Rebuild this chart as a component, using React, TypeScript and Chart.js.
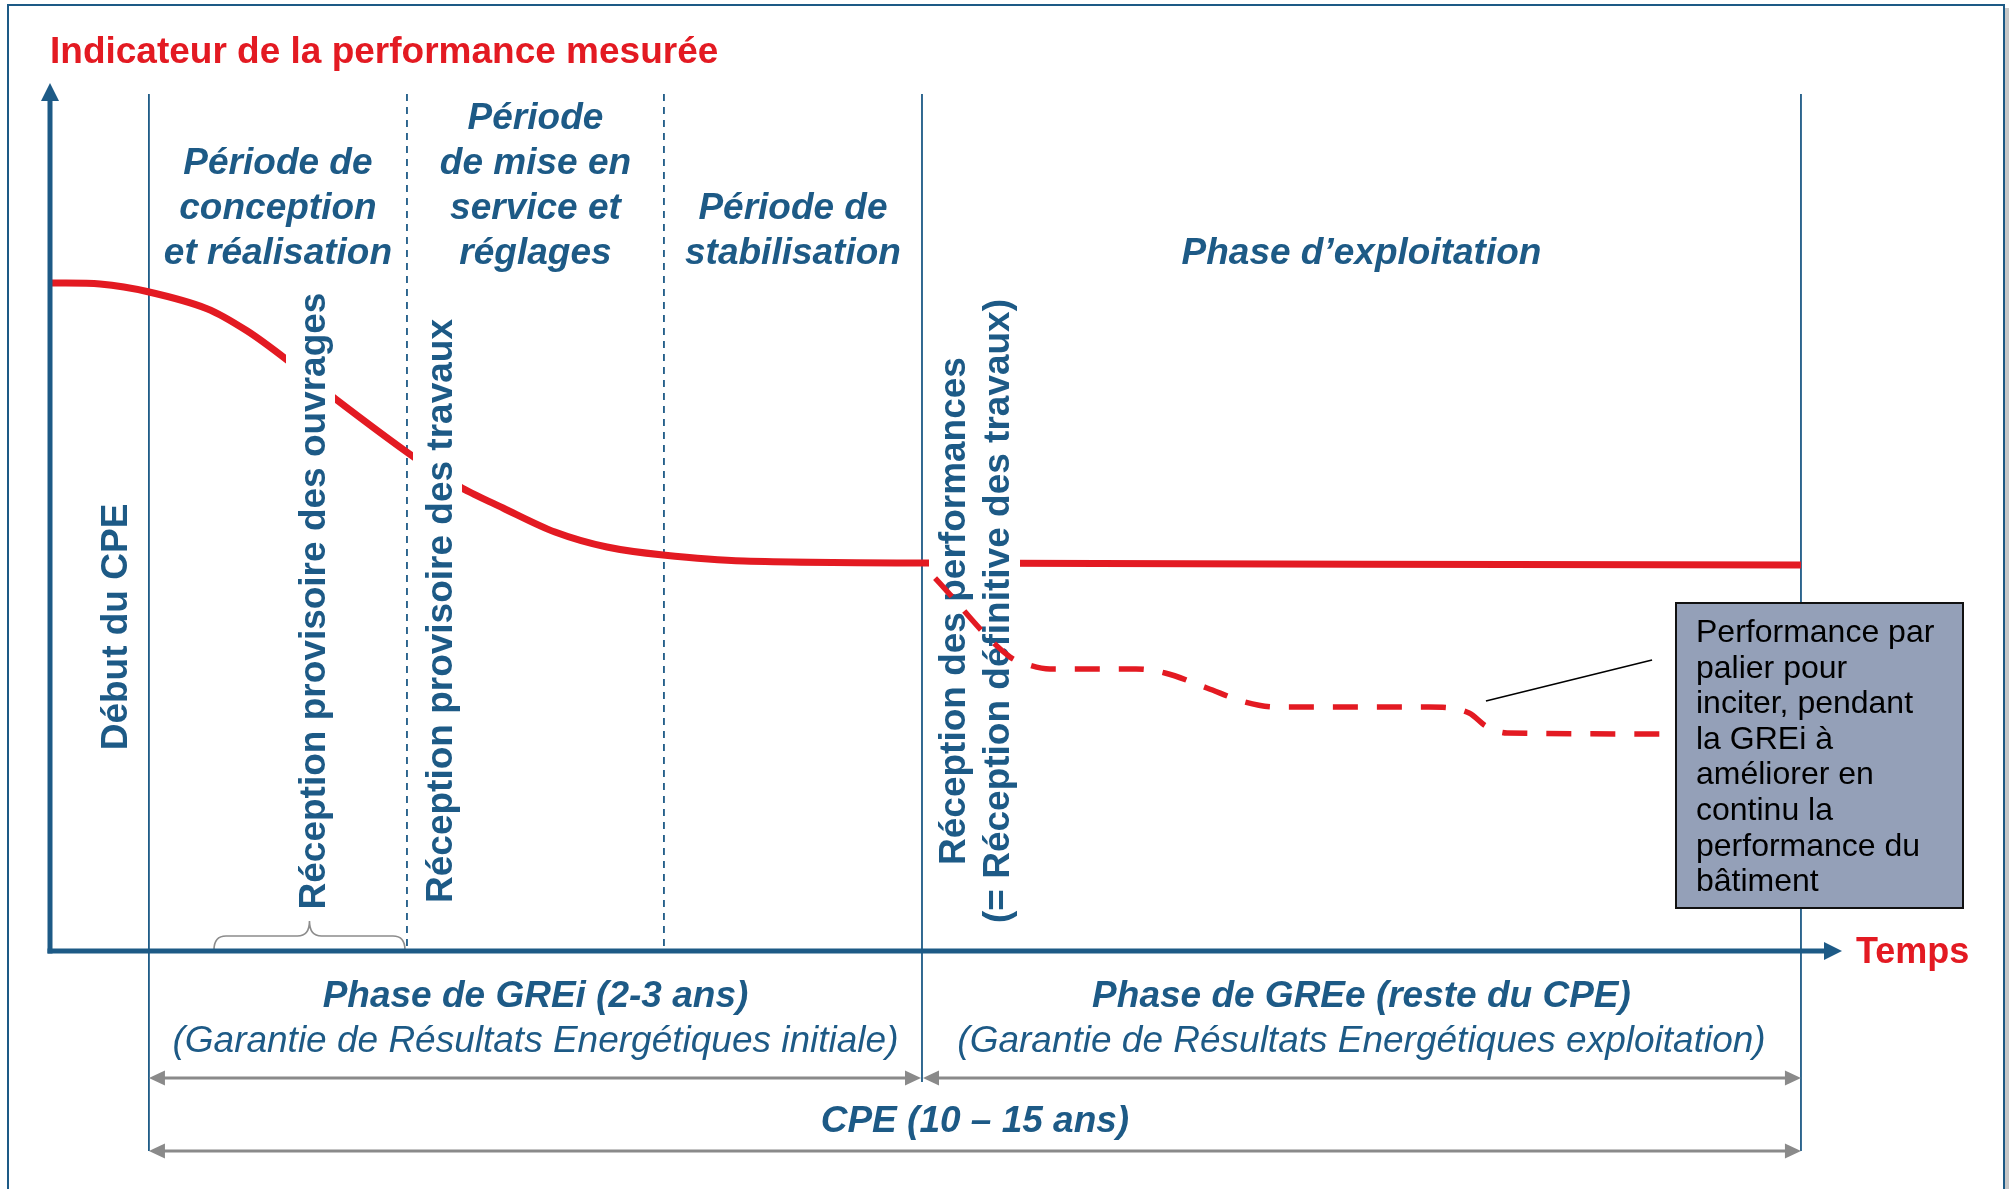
import React, { useEffect, useRef } from 'react';
import { Chart, registerables } from 'chart.js';

Chart.register(...registerables);

// ---------------- data ----------------
// measured performance indicator (solid curve): time units vs performance units
const solidTime = [0, 2.79, 5.47, 8.76, 10.99, 13.23, 15.79, 20.37, 22.99, 25.28, 28.18, 31.08, 34.21, 38.73, 48.72, 97.71];
const solidPerf = [76.96, 76.84, 75.95, 74.0, 71.45, 68.09, 63.82, 56.8, 53.34, 51.04, 48.27, 46.54, 45.62, 44.93, 44.7, 44.47];
// stepped performance (dashed curve)
const stepTime = [49.39, 53.57, 54.63, 55.8, 60.6, 62.22, 64.56, 66.69, 68.42, 76.95, 79.19, 80.13, 81.31, 90.74];
const stepPerf = [42.97, 33.87, 32.95, 32.49, 32.49, 32.03, 30.3, 28.69, 28.11, 28.11, 27.42, 25.92, 25.12, 25.0];
// milestones on the time axis
const milestoneTime = [5.52, 19.92, 34.26, 48.66, 97.71];
const milestoneDashed = [false, true, true, false, false];

const periodHeaders = [
  ['Période de', 'conception', 'et réalisation'],
  ['Période', 'de mise en', 'service et', 'réglages'],
  ['Période de', 'stabilisation'],
  ['Phase d’exploitation'],
];
const eventLabels = [
  'Début du CPE',
  'Réception provisoire des ouvrages',
  'Réception provisoire des travaux',
  'Réception des performances',
  '(= Réception définitive des travaux)',
];
const phaseTitles = ['Phase de GREi (2-3 ans)', 'Phase de GREe (reste du CPE)'];
const phaseSubtitles = [
  '(Garantie de Résultats Energétiques initiale)',
  '(Garantie de Résultats Energétiques exploitation)',
];
const contractLabel = 'CPE (10 – 15 ans)';
const yAxisTitle = 'Indicateur de la performance mesurée';
const xAxisTitle = 'Temps';
const calloutLines = [
  'Performance par',
  'palier pour',
  'inciter, pendant',
  'la GREi à',
  'améliorer en',
  'continu la',
  'performance du',
  'bâtiment',
];
// callout leader (time, perf) from -> to
const calloutFrom = [80.13, 28.8];
const calloutTo = [89.4, 33.53];

// ---------------- styles ----------------
const BLUE = '#1d5a86';
const RED = '#e31a22';
const GRAY = '#8a8a8a';
const FONT = '"Liberation Sans", Arial, Helvetica, sans-serif';

function rotText(ctx: CanvasRenderingContext2D, text: string, bx: number, cy: number) {
  ctx.save();
  ctx.translate(bx, cy);
  ctx.rotate(-Math.PI / 2);
  ctx.textAlign = 'center';
  ctx.textBaseline = 'alphabetic';
  ctx.fillText(text, 0, 0);
  ctx.restore();
}

function doubleArrow(ctx: CanvasRenderingContext2D, x1: number, x2: number, y: number) {
  const L = 16, H = 7.5;
  ctx.strokeStyle = GRAY;
  ctx.fillStyle = GRAY;
  ctx.lineWidth = 3;
  ctx.beginPath();
  ctx.moveTo(x1 + L - 2, y);
  ctx.lineTo(x2 - L + 2, y);
  ctx.stroke();
  ctx.beginPath();
  ctx.moveTo(x1, y);
  ctx.lineTo(x1 + L, y - H);
  ctx.lineTo(x1 + L, y + H);
  ctx.closePath();
  ctx.fill();
  ctx.beginPath();
  ctx.moveTo(x2, y);
  ctx.lineTo(x2 - L, y - H);
  ctx.lineTo(x2 - L, y + H);
  ctx.closePath();
  ctx.fill();
}

const diagramPlugin = {
  id: 'diagram',
  beforeDatasetsDraw(chart: any) {
    const ctx: CanvasRenderingContext2D = chart.ctx;
    const xs = chart.scales.x;
    const area = chart.chartArea;
    const mx = milestoneTime.map((t) => xs.getPixelForValue(t));
    ctx.save();

    // frame with shadow
    ctx.fillStyle = 'rgba(0,0,0,0.22)';
    ctx.fillRect(2005, 8, 4, 1300);
    ctx.strokeStyle = BLUE;
    ctx.lineWidth = 2;
    ctx.strokeRect(8, 5, 1996, 1300);

    // title
    ctx.fillStyle = RED;
    ctx.font = `bold 37px ${FONT}`;
    ctx.textAlign = 'left';
    ctx.textBaseline = 'alphabetic';
    ctx.fillText(yAxisTitle, 50, 63);

    // milestone lines
    const top = area.top + 11;
    mx.forEach((x, i) => {
      ctx.strokeStyle = BLUE;
      ctx.lineWidth = 1.8;
      if (milestoneDashed[i]) {
        ctx.setLineDash([7, 6]);
      } else {
        ctx.setLineDash([]);
      }
      let bottom = area.bottom;
      if (!milestoneDashed[i]) bottom = i === 3 ? 1082 : 1151;
      ctx.beginPath();
      ctx.moveTo(x, top);
      ctx.lineTo(x, bottom);
      ctx.stroke();
    });
    ctx.setLineDash([]);

    // period headers
    ctx.fillStyle = BLUE;
    ctx.font = `italic bold 37px ${FONT}`;
    ctx.textAlign = 'center';
    periodHeaders.forEach((lines, c) => {
      const cx = (mx[c] + mx[c + 1]) / 2;
      const n = lines.length;
      lines.forEach((ln, i) => {
        ctx.fillText(ln, cx, 264 - (n - 1 - i) * 45);
      });
    });

    // brace
    ctx.strokeStyle = '#8c8c8c';
    ctx.lineWidth = 1.6;
    const b1 = 214, b2 = mx[1] - 2, bm = (b1 + b2) / 2, by = area.bottom - 1;
    ctx.beginPath();
    ctx.moveTo(b1, by);
    ctx.quadraticCurveTo(b1, by - 14, b1 + 12, by - 14);
    ctx.lineTo(bm - 12, by - 14);
    ctx.quadraticCurveTo(bm, by - 14, bm, by - 29);
    ctx.quadraticCurveTo(bm, by - 14, bm + 12, by - 14);
    ctx.lineTo(b2 - 12, by - 14);
    ctx.quadraticCurveTo(b2, by - 14, b2, by);
    ctx.stroke();

    // bottom phase labels
    ctx.fillStyle = BLUE;
    ctx.textAlign = 'center';
    for (let p = 0; p < 2; p++) {
      const a = p === 0 ? mx[0] : mx[3];
      const b = p === 0 ? mx[3] : mx[4];
      const cx = (a + b) / 2;
      ctx.font = `italic bold 37px ${FONT}`;
      ctx.fillText(phaseTitles[p], cx, 1007);
      ctx.font = `italic 37px ${FONT}`;
      ctx.fillText(phaseSubtitles[p], cx, 1052);
    }
    ctx.font = `italic bold 37px ${FONT}`;
    ctx.fillText(contractLabel, (mx[0] + mx[4]) / 2, 1132);

    doubleArrow(ctx, mx[0], mx[3] - 1, 1078);
    doubleArrow(ctx, mx[3] + 1, mx[4], 1078);
    doubleArrow(ctx, mx[0], mx[4], 1151);

    ctx.restore();
  },
  afterDatasetDraw(chart: any, args: any) {
    if (args.index !== 1) return;
    const ctx: CanvasRenderingContext2D = chart.ctx;
    ctx.save();
    ctx.font = `bold 37px ${FONT}`;
    const fs = 37;
    const spec = [
      { t: eventLabels[0], bx: 127, cy: 627, box: false },
      { t: eventLabels[1], bx: 325, cy: 601, box: true },
      { t: eventLabels[2], bx: 452, cy: 611, box: true },
    ];
    spec.forEach((s) => {
      if (s.box) {
        const w = ctx.measureText(s.t).width;
        ctx.fillStyle = '#ffffff';
        ctx.fillRect(s.bx - fs - 2, s.cy - w / 2 - 4, fs + 2 + 10, w + 8);
      }
    });
    // block of two lines
    const w3 = Math.max(ctx.measureText(eventLabels[3]).width, ctx.measureText(eventLabels[4]).width);
    ctx.fillStyle = '#ffffff';
    ctx.fillRect(929, 611 - w3 / 2 - 4, 1020 - 929, w3 + 8);

    ctx.fillStyle = BLUE;
    spec.forEach((s) => rotText(ctx, s.t, s.bx, s.cy));
    rotText(ctx, eventLabels[3], 965, 611);
    rotText(ctx, eventLabels[4], 1009, 611);
    ctx.restore();
  },
  afterDraw(chart: any) {
    const ctx: CanvasRenderingContext2D = chart.ctx;
    const xs = chart.scales.x;
    const ys = chart.scales.y;
    const area = chart.chartArea;
    ctx.save();

    // axes
    ctx.strokeStyle = BLUE;
    ctx.fillStyle = BLUE;
    ctx.lineWidth = 5;
    ctx.beginPath();
    ctx.moveTo(area.left, area.bottom + 2.5);
    ctx.lineTo(area.left, area.top + 16);
    ctx.stroke();
    ctx.beginPath();
    ctx.moveTo(area.left, area.top);
    ctx.lineTo(area.left - 9, area.top + 18);
    ctx.lineTo(area.left + 9, area.top + 18);
    ctx.closePath();
    ctx.fill();
    ctx.beginPath();
    ctx.moveTo(area.left - 2.5, area.bottom);
    ctx.lineTo(area.right - 16, area.bottom);
    ctx.stroke();
    ctx.beginPath();
    ctx.moveTo(area.right, area.bottom);
    ctx.lineTo(area.right - 18, area.bottom - 9);
    ctx.lineTo(area.right - 18, area.bottom + 9);
    ctx.closePath();
    ctx.fill();

    ctx.fillStyle = RED;
    ctx.font = `bold 36px ${FONT}`;
    ctx.textAlign = 'left';
    ctx.fillText(xAxisTitle, area.right + 14, 963);

    // callout leader
    ctx.strokeStyle = '#000';
    ctx.lineWidth = 1.6;
    ctx.beginPath();
    ctx.moveTo(xs.getPixelForValue(calloutFrom[0]), ys.getPixelForValue(calloutFrom[1]));
    ctx.lineTo(xs.getPixelForValue(calloutTo[0]), ys.getPixelForValue(calloutTo[1]));
    ctx.stroke();

    // callout box
    const bx = 1676, byTop = 603, bw = 287, bh = 305;
    ctx.fillStyle = '#94a0b8';
    ctx.fillRect(bx, byTop, bw, bh);
    ctx.strokeStyle = '#111';
    ctx.lineWidth = 2;
    ctx.strokeRect(bx, byTop, bw, bh);
    ctx.fillStyle = '#000';
    ctx.font = `32px ${FONT}`;
    ctx.textAlign = 'left';
    calloutLines.forEach((ln, i) => ctx.fillText(ln, 1696, 642 + i * 35.6));

    ctx.restore();
  },
};

export default function App() {
  const ref = useRef<HTMLCanvasElement>(null);
  useEffect(() => {
    const canvas = ref.current!;
    const chart = new Chart(canvas, {
      type: 'scatter',
      data: {
        datasets: [
          {
            label: 'Performance par palier',
            data: stepTime.map((t, i) => ({ x: t, y: stepPerf[i] })),
            showLine: true,
            borderColor: RED,
            backgroundColor: RED,
            borderWidth: 5.5,
            borderDash: [25, 19],
            pointRadius: 0,
            cubicInterpolationMode: 'monotone',
            fill: false,
            clip: false,
          } as any,
          {
            label: 'Performance mesurée',
            data: solidTime.map((t, i) => ({ x: t, y: solidPerf[i] })),
            showLine: true,
            borderColor: RED,
            backgroundColor: RED,
            borderWidth: 7,
            pointRadius: 0,
            tension: 0.3,
            fill: false,
            clip: false,
          } as any,
        ],
      },
      options: {
        responsive: false,
        animation: false,
        events: [],
        layout: { padding: { left: 50, top: 83, right: 170, bottom: 238 } },
        scales: {
          x: { type: 'linear', min: 0, max: 100, display: false },
          y: { type: 'linear', min: 0, max: 100, display: false },
        },
        plugins: {
          legend: { display: false },
          tooltip: { enabled: false },
          title: { display: false },
        },
      },
      plugins: [diagramPlugin],
    });
    return () => chart.destroy();
  }, []);
  return (
    <div style={{ position: 'absolute', left: 0, top: 0, width: 2012, height: 1189, background: '#fff' }}>
      <canvas ref={ref} width={2012} height={1189} style={{ display: 'block', width: 2012, height: 1189 }} />
    </div>
  );
}
